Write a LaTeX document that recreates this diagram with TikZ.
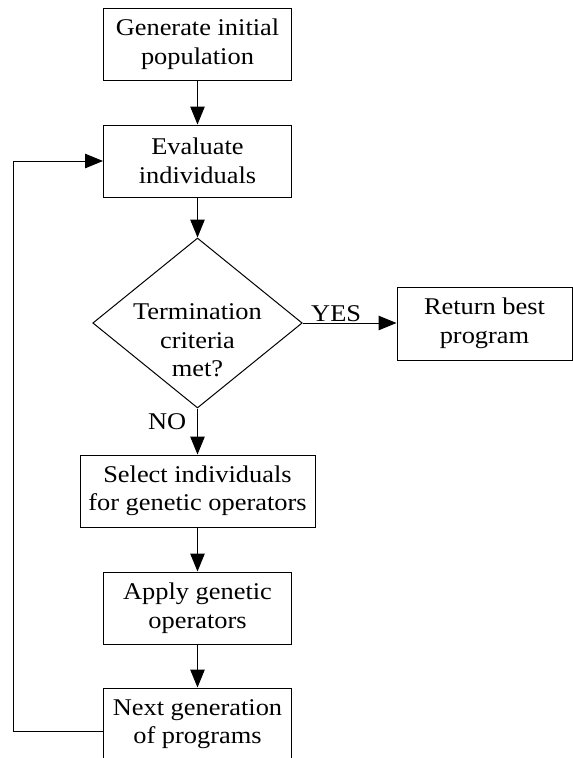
\documentclass[tikz,border=0pt]{standalone}
\usepackage{fontspec}
\setmainfont{Liberation Serif}[FakeStretch=1.1]
\usetikzlibrary{shapes.geometric,arrows.meta,calc}
\begin{document}
\begin{tikzpicture}[x=1pt,y=-1pt,
  box/.style={draw=black,line width=1pt,inner sep=0pt,minimum height=72pt,align=center,font=\fontsize{24}{28.5}\selectfont},
  lbl/.style={inner sep=0pt,font=\fontsize{24}{28.5}\selectfont},
  arr/.style={line width=1pt,-{Triangle[length=18pt,width=14.5pt]}}]
\clip (0,0) rectangle (573,758);
\node[box,minimum width=188pt] (b1) at (197.5,44) {Generate initial\\population};
\node[box,minimum width=188pt] (b2) at (197.5,161) {Evaluate\\individuals};
\node[draw=black,diamond,line width=1pt,inner sep=0pt,minimum width=209.5pt,minimum height=170pt] (d) at (197.5,323) {};
\node[lbl,align=center] (dt) at (197.5,340.5) {Termination\\criteria\\met?};
\node[box,minimum width=175pt,minimum height=73pt] (ret) at (484.5,323.5) {Return best\\program};
\node[box,minimum width=235pt] (sel) at (197.5,491) {Select individuals\\for genetic operators};
\node[box,minimum width=188pt] (app) at (197.5,608) {Apply genetic\\operators};
\node[box,minimum width=188pt] (nxt) at (197.5,724) {Next generation\\of programs};
\node[lbl,anchor=base west] (yes) at (311,321) {YES};
\node[lbl,anchor=base east] (no) at (186.5,429) {NO};
\coordinate (lx) at (13.5,731);
\draw[arr] (b1.south) -- (b2.north);
\draw[arr] (b2.south) -- (d.north);
\draw[arr] (d.east) -- (d.east -| ret.west);
\draw[arr] (d.south) -- (sel.north);
\draw[arr] (sel.south) -- (app.north);
\draw[arr] (app.south) -- (nxt.north);
\draw[arr] ([yshift=-7pt]nxt.west) -- ([yshift=-7pt]nxt.west -| lx) |- (b2.west);
\end{tikzpicture}
\end{document}
